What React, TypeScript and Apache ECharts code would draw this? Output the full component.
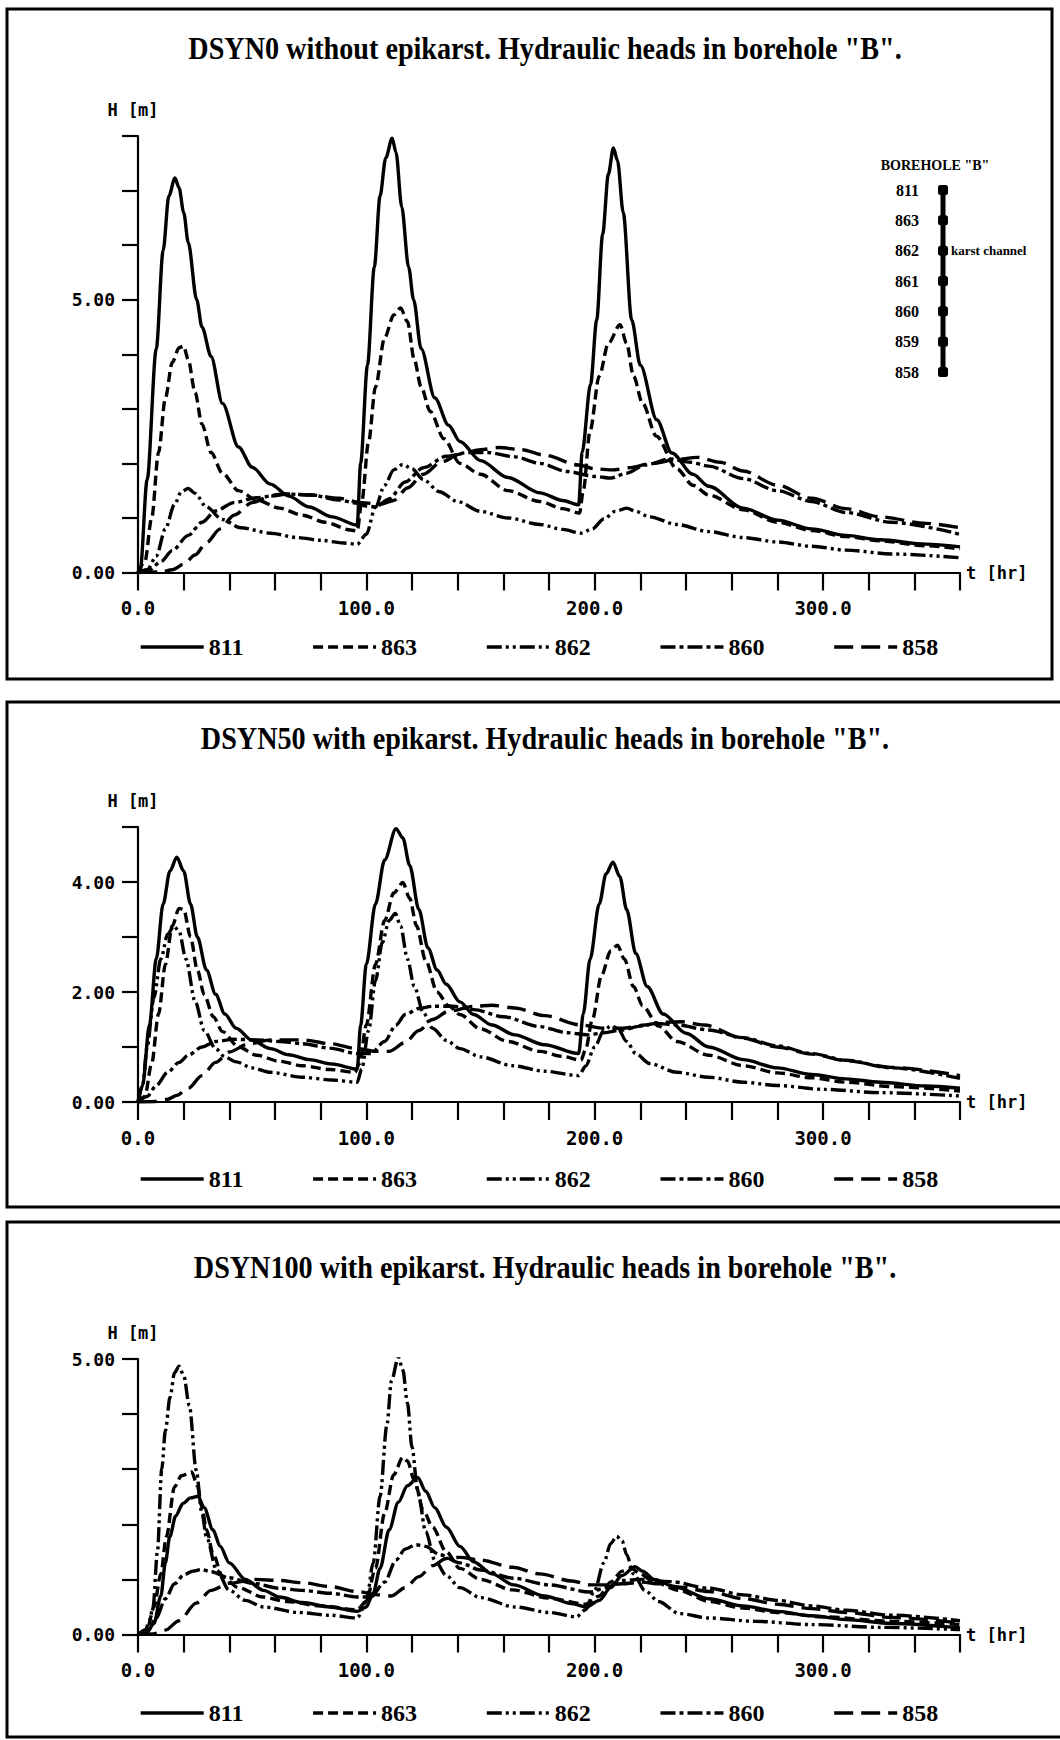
import React, { useEffect, useRef } from "react";
import * as echarts from "echarts";

// ---------- DATA ----------
const piezometers = ["811", "863", "862", "860", "858"];
const panelTitles = [
  'DSYN0 without epikarst. Hydraulic heads in borehole "B".',
  'DSYN50 with epikarst. Hydraulic heads in borehole "B".',
  'DSYN100 with epikarst. Hydraulic heads in borehole "B".',
];
const yMaxes = [8, 5, 5];
const yLabelValues = [[0, 5], [0, 2, 4], [0, 5]];
const xLabelValues = [0, 100, 200, 300];
const boreholeNodes = ["811", "863", "862", "861", "860", "859", "858"];
const karstNode = "862";
const karstText = "karst channel";
const boreholeTitle = 'BOREHOLE "B"';

// Panel 1: DSYN0
const p1_811 = [[0,0],[1,0.05],[4,1.7],[8,4.1],[11,5.9],[13.5,6.9],[16.2,7.23],[18,7.05],[20,6.6],[22,6.05],[25.7,5.0],[28,4.5],[32,3.96],[37,3.1],[44,2.3],[50,1.93],[58,1.62],[66,1.4],[75,1.2],[85,1.02],[96,0.87],[97.5,2.0],[100.5,3.8],[103.5,5.6],[106,6.9],[108.5,7.6],[111.3,7.96],[113,7.7],[115.5,6.7],[118.5,5.6],[120.7,5.0],[124,4.1],[130,3.2],[136,2.7],[141,2.4],[150,2.05],[162,1.74],[176,1.46],[186,1.32],[193,1.24],[194.5,2.2],[198.2,3.45],[200.9,4.63],[203.5,6.2],[206,7.3],[208.2,7.78],[210,7.55],[212.5,6.6],[216.2,4.63],[220,3.8],[227.2,2.8],[233.8,2.19],[243,1.8],[250,1.58],[265,1.18],[280,0.96],[295,0.8],[310,0.68],[325,0.6],[345,0.52],[360,0.47]];
const p1_863 = [[0,0],[3,0.2],[6,1.0],[9,2.2],[12,3.2],[15,3.85],[18,4.12],[20,4.15],[22,3.9],[25,3.3],[28,2.72],[32,2.2],[37,1.82],[44,1.5],[52,1.33],[62,1.18],[72,1.05],[82,0.92],[93,0.78],[96,0.76],[98,1.3],[101,2.4],[104,3.4],[108,4.3],[112,4.72],[115,4.85],[118,4.6],[121,3.9],[124,3.4],[128,2.95],[134,2.45],[141,2.0],[150,1.8],[162,1.5],[176,1.3],[186,1.17],[193.4,1.09],[195,1.5],[198,2.6],[202,3.6],[206,4.2],[211.1,4.54],[214,4.2],[217,3.6],[221,3.1],[227,2.5],[236,1.9],[243,1.6],[250,1.42],[265,1.15],[280,0.92],[295,0.77],[310,0.66],[325,0.58],[345,0.49],[360,0.43]];
const p1_862 = [[0,0],[4,0.05],[8,0.3],[12,0.8],[16,1.25],[19,1.48],[22,1.54],[25,1.45],[30,1.2],[37,0.97],[45,0.82],[58,0.72],[70,0.64],[80,0.59],[90,0.54],[96,0.52],[100,0.7],[104,1.2],[108,1.6],[112,1.88],[116,1.98],[120,1.9],[125,1.7],[132,1.48],[140,1.3],[150,1.12],[162,1.0],[176,0.88],[186,0.79],[194,0.72],[199,0.8],[204,0.98],[209,1.12],[214,1.18],[218,1.12],[224,1.02],[236,0.88],[250,0.75],[265,0.64],[280,0.56],[295,0.48],[310,0.41],[330,0.34],[360,0.27]];
const p1_860 = [[0,0],[5,0.05],[10,0.2],[15,0.4],[22,0.68],[28,0.92],[34,1.13],[42,1.28],[52,1.37],[64,1.44],[76,1.42],[88,1.33],[96,1.27],[100,1.22],[104,1.2],[110,1.35],[117,1.66],[125,1.92],[135,2.13],[145,2.2],[153,2.2],[165,2.12],[176,2.0],[188,1.85],[200,1.76],[207,1.73],[214,1.82],[222,1.97],[233,2.08],[242,2.02],[250,1.95],[265,1.72],[280,1.5],[295,1.3],[310,1.1],[330,0.92],[360,0.7]];
const p1_858 = [[0,0],[10,0.01],[15,0.05],[20,0.15],[25,0.32],[30,0.55],[36,0.8],[42,1.05],[50,1.28],[58,1.4],[66,1.44],[76,1.42],[88,1.36],[98,1.28],[106,1.25],[112,1.32],[118,1.55],[125,1.8],[133,2.03],[141,2.17],[150,2.25],[158,2.29],[168,2.25],[178,2.15],[193,1.97],[200,1.9],[208,1.88],[215,1.92],[225,2.0],[236,2.07],[245,2.11],[255,2.02],[265,1.86],[280,1.6],[295,1.36],[310,1.17],[325,1.02],[345,0.9],[360,0.82]];

// Panel 2: DSYN50
const p2_811 = [[0,0],[2,0.3],[5,1.4],[8,2.6],[11,3.6],[14,4.2],[17,4.45],[20,4.2],[23,3.6],[26,3.0],[30,2.4],[34,1.96],[38,1.6],[43,1.34],[50,1.12],[58,0.97],[66,0.86],[75,0.77],[85,0.69],[96,0.6],[97.5,1.4],[100,2.5],[104,3.6],[108,4.4],[113,4.97],[116,4.8],[119,4.3],[123,3.5],[127,2.8],[131,2.4],[135,2.14],[141,1.82],[147,1.59],[155,1.4],[165,1.22],[178,1.04],[193,0.88],[195,1.6],[198,2.6],[202,3.6],[205,4.15],[208,4.36],[211,4.1],[214,3.5],[218,2.7],[223,2.1],[230,1.6],[240,1.25],[250,1.0],[265,0.77],[280,0.62],[295,0.5],[310,0.42],[325,0.36],[345,0.29],[360,0.25]];
const p2_863 = [[0,0],[3,0.1],[6,0.7],[9,1.6],[12,2.5],[15,3.2],[18,3.52],[20,3.5],[23,3.0],[26,2.4],[29,1.95],[33,1.55],[37,1.28],[44,1.0],[52,0.85],[62,0.74],[72,0.66],[84,0.59],[95,0.54],[97,0.7],[100,1.4],[104,2.5],[108,3.3],[112,3.8],[116,3.99],[119,3.7],[122,3.2],[126,2.57],[131,2.0],[136,1.75],[141,1.59],[150,1.33],[162,1.1],[176,0.92],[186,0.83],[194,0.76],[196,0.95],[199,1.5],[203,2.3],[207,2.75],[210,2.85],[213,2.6],[217,2.1],[221,1.75],[228,1.38],[236,1.1],[250,0.85],[265,0.66],[280,0.53],[295,0.44],[310,0.36],[330,0.28],[360,0.2]];
const p2_862 = [[0,0],[2,0.3],[4,1.0],[7,1.9],[10,2.6],[13,3.05],[15.7,3.2],[18,3.1],[21,2.6],[25,1.83],[29,1.3],[34,0.97],[38,0.82],[43,0.73],[50,0.62],[58,0.54],[72,0.45],[85,0.4],[96,0.36],[98,0.6],[101,1.3],[104,2.2],[107,2.9],[110,3.3],[112.7,3.43],[115,3.2],[118,2.6],[121,2.1],[125,1.62],[129,1.34],[135,1.12],[141,0.97],[150,0.82],[164,0.66],[178,0.56],[193,0.48],[196,0.65],[200,1.0],[204,1.3],[207,1.38],[210,1.35],[214,1.1],[218,0.88],[224,0.7],[236,0.54],[250,0.45],[265,0.36],[280,0.3],[300,0.23],[325,0.17],[360,0.11]];
const p2_860 = [[0,0],[4,0.1],[8,0.3],[13,0.54],[18,0.72],[22,0.85],[28,1.0],[34,1.1],[42,1.14],[52,1.13],[62,1.1],[72,1.06],[84,0.98],[96,0.88],[102,0.88],[108,1.1],[113,1.4],[117,1.59],[123,1.7],[129,1.74],[138,1.74],[147,1.68],[160,1.55],[176,1.37],[188,1.26],[197,1.22],[204,1.26],[212,1.31],[220,1.38],[227,1.43],[236,1.4],[250,1.31],[265,1.17],[280,1.02],[295,0.88],[310,0.76],[330,0.62],[360,0.43]];
const p2_858 = [[0,0],[8,0.01],[13,0.05],[17,0.12],[22,0.25],[28,0.48],[34,0.72],[40,0.91],[48,1.05],[58,1.13],[72,1.13],[84,1.06],[96,0.97],[104,0.92],[110,0.92],[117,1.08],[123,1.3],[129,1.5],[136,1.65],[147,1.74],[155,1.76],[165,1.71],[178,1.57],[194,1.4],[204,1.34],[212,1.34],[222,1.4],[230,1.45],[238,1.46],[248,1.4],[265,1.16],[280,1.0],[295,0.87],[310,0.75],[330,0.63],[360,0.48]];

// Panel 3: DSYN100
const p3_811 = [[0,0],[4,0.05],[7,0.2],[10,0.7],[12,1.3],[13.9,1.77],[16.5,2.15],[19.7,2.38],[23,2.48],[26.3,2.51],[29,2.3],[32.8,1.9],[36,1.6],[40,1.3],[47,1.0],[55,0.8],[62,0.68],[72,0.58],[84,0.5],[96,0.42],[100,0.5],[103,0.75],[106,1.2],[110,1.9],[114,2.4],[118,2.7],[122.5,2.85],[126,2.6],[130,2.3],[135,1.95],[141,1.6],[147,1.32],[155,1.1],[164.5,0.9],[178,0.7],[190,0.56],[196.5,0.5],[202,0.62],[207,0.85],[212,1.07],[217.7,1.23],[221,1.15],[226,1.0],[236,0.85],[250,0.65],[265,0.52],[280,0.42],[295,0.34],[310,0.27],[330,0.2],[360,0.12]];
const p3_863 = [[0,0],[4,0.1],[7,0.5],[10,1.1],[12.4,1.77],[16,2.68],[19,2.88],[23.5,2.95],[26,2.7],[28,2.3],[30,1.9],[33,1.45],[37,1.05],[44,0.85],[54.7,0.68],[65,0.6],[80,0.52],[96,0.45],[100,0.6],[104,1.2],[108,2.2],[112,2.9],[116,3.22],[118,3.15],[121,2.8],[125,2.25],[129,1.95],[135,1.5],[141,1.2],[150,1.0],[164,0.81],[180,0.66],[196,0.55],[202,0.7],[207,0.95],[212,1.15],[216,1.2],[220,1.1],[226,0.95],[237,0.8],[250,0.6],[265,0.48],[280,0.4],[300,0.32],[330,0.24],[360,0.18]];
const p3_862 = [[0,0],[3,0.05],[5,0.25],[6.6,0.5],[8.5,1.5],[10.4,3.0],[12,3.7],[14,4.3],[16,4.75],[18,4.87],[20,4.7],[22.5,4.15],[25.5,2.98],[28,2.2],[30,1.77],[34.4,1.17],[40,0.8],[47,0.62],[55,0.5],[70,0.4],[84,0.35],[96,0.3],[100,0.6],[103,1.3],[106,2.5],[109,3.8],[111,4.6],[114,5.03],[116,4.8],[118,4.2],[120,3.4],[122.5,2.6],[126,1.87],[130,1.35],[135,1.07],[141,0.85],[150,0.67],[165,0.5],[180,0.4],[192,0.32],[196,0.45],[200,0.8],[204,1.3],[207,1.65],[209.6,1.78],[212,1.7],[214,1.45],[217,1.1],[222,0.8],[228,0.6],[237,0.38],[250,0.3],[270,0.24],[295,0.18],[325,0.13],[360,0.09]];
const p3_860 = [[0,0],[4,0.05],[8,0.3],[12,0.65],[16,0.92],[20,1.08],[24,1.15],[27.8,1.18],[32,1.14],[40,1.03],[50,0.93],[62,0.84],[72,0.8],[84,0.75],[96,0.68],[102,0.68],[108,0.95],[113,1.35],[117,1.55],[121.7,1.63],[126,1.6],[132,1.45],[141,1.3],[150,1.17],[164.5,1.02],[180,0.9],[198,0.77],[205,0.85],[212,0.98],[220,1.0],[233,0.96],[250,0.84],[265,0.72],[280,0.62],[295,0.52],[310,0.44],[330,0.35],[360,0.25]];
const p3_858 = [[0,0],[6.6,0.01],[12,0.08],[18,0.25],[25.5,0.57],[32,0.8],[40,0.93],[51.5,1.0],[62,0.98],[72,0.94],[84,0.87],[96,0.78],[105,0.72],[111,0.7],[117,0.85],[123,1.05],[129,1.25],[135,1.38],[141,1.4],[150,1.35],[164,1.22],[176,1.1],[190,0.97],[198,0.9],[205,0.9],[212,0.92],[221,0.95],[228,0.92],[237.4,0.86],[250,0.78],[265,0.65],[280,0.55],[295,0.47],[310,0.4],[330,0.31],[360,0.21]];

const panelData = [
  [p1_811, p1_863, p1_862, p1_860, p1_858],
  [p2_811, p2_863, p2_862, p2_860, p2_858],
  [p3_811, p3_863, p3_862, p3_860, p3_858],
];

// ---------- STYLE ----------
const dashTypes: any[] = ["solid", [10, 5], [15, 4, 3, 4, 3, 4], [15, 4, 4, 4], [19, 8]];
const MONO = "DejaVu Sans Mono";
const SERIF = "Liberation Serif";

const grids = [
  { left: 138, top: 136, width: 822, height: 436.5 },
  { left: 138, top: 827, width: 822, height: 275 },
  { left: 138, top: 1359, width: 822, height: 275.5 },
];
const frames = [
  { x: 7, y: 9, w: 1045, h: 670 },
  { x: 7, y: 702, w: 1060, h: 505 },
  { x: 7, y: 1222, w: 1060, h: 515 },
];
const titleY = [48, 738, 1267];
const legendTop = [635, 1167, 1701];

export default function App() {
  const ref = useRef<HTMLDivElement>(null);
  useEffect(() => {
    if (!ref.current) return;
    const chart = echarts.init(ref.current, null, { renderer: "svg" });

    const xAxes: any[] = grids.map((_, i) => ({
      type: "value",
      gridIndex: i,
      min: 0,
      max: 360,
      interval: 20,
      name: "t [hr]",
      nameLocation: "end",
      nameGap: 6,
      nameTextStyle: { fontFamily: MONO, fontWeight: "bold", fontSize: 17, color: "#000" },
      axisLine: { show: true, onZero: false, lineStyle: { color: "#000", width: 2.2 } },
      axisTick: { show: true, inside: false, length: 18, lineStyle: { color: "#000", width: 2.2 } },
      axisLabel: {
        margin: 26,
        fontFamily: MONO,
        fontWeight: "bold",
        fontSize: 19,
        color: "#000",
        showMinLabel: true,
        showMaxLabel: true,
        formatter: (v: number) => (xLabelValues.indexOf(v) >= 0 ? v.toFixed(1) : ""),
      },
      splitLine: { show: false },
    }));
    const yAxes: any[] = grids.map((_, i) => ({
      type: "value",
      gridIndex: i,
      min: 0,
      max: yMaxes[i],
      interval: 1,
      name: "H [m]",
      nameLocation: "end",
      nameGap: 18,
      nameTextStyle: { fontFamily: MONO, fontWeight: "bold", fontSize: 17, color: "#000", padding: [0, 10, 0, 0] },
      axisLine: { show: true, onZero: false, lineStyle: { color: "#000", width: 2.2 } },
      axisTick: { show: true, inside: false, length: 16, lineStyle: { color: "#000", width: 2.2 } },
      axisLabel: {
        margin: 23,
        fontFamily: MONO,
        fontWeight: "bold",
        fontSize: 18,
        color: "#000",
        formatter: (v: number) => (yLabelValues[i].indexOf(v) >= 0 ? v.toFixed(2) : ""),
      },
      splitLine: { show: false },
    }));

    // borehole inset axes
    xAxes.push({ type: "value", gridIndex: 3, min: -1, max: 1, show: false });
    yAxes.push({
      type: "category",
      gridIndex: 3,
      data: boreholeNodes,
      inverse: true,
      boundaryGap: false,
      axisLine: { show: false },
      axisTick: { show: false },
      splitLine: { show: false },
      axisLabel: { margin: 14, fontFamily: SERIF, fontWeight: "bold", fontSize: 16, color: "#000" },
    });

    const series: any[] = [];
    panelData.forEach((arr, i) => {
      arr.forEach((data, k) => {
        series.push({
          type: "line",
          name: piezometers[k],
          xAxisIndex: i,
          yAxisIndex: i,
          data,
          symbol: "none",
          showSymbol: false,
          smooth: 0.3,
          smoothMonotone: "x",
          color: "#000",
          itemStyle: { color: "#000" },
          lineStyle: { color: "#000", width: 3.4, type: dashTypes[k] },
          z: 3,
        });
      });
    });
    series.push({
      type: "line",
      name: "borehole",
      xAxisIndex: 3,
      yAxisIndex: 3,
      data: boreholeNodes.map((n) =>
        n === karstNode
          ? {
              value: [0, n],
              label: {
                show: true,
                position: "right",
                distance: 3,
                formatter: karstText,
                fontFamily: SERIF,
                fontWeight: "bold",
                fontSize: 13,
                color: "#000",
              },
            }
          : { value: [0, n] }
      ),
      symbol: "roundRect",
      symbolSize: 10,
      showSymbol: true,
      itemStyle: { color: "#000" },
      lineStyle: { color: "#000", width: 5 },
    });

    const legends = legendTop.map((top) => ({
      data: piezometers,
      left: 139,
      top,
      orient: "horizontal",
      padding: 0,
      itemWidth: 63,
      itemHeight: 14,
      itemGap: 68,
      selectedMode: false,
      itemStyle: { color: "rgba(0,0,0,0)", borderWidth: 0, opacity: 0 },
      lineStyle: { width: 3.4 },
      textStyle: { fontFamily: SERIF, fontWeight: "bold", fontSize: 24, color: "#000" },
    }));

    const graphic: any[] = [];
    frames.forEach((f) =>
      graphic.push({
        type: "rect",
        shape: { x: f.x, y: f.y, width: f.w, height: f.h },
        style: { fill: "none", stroke: "#000", lineWidth: 3 },
        silent: true,
        z: 1,
      })
    );
    panelTitles.forEach((t, i) =>
      graphic.push({
        type: "text",
        x: 545,
        y: titleY[i],
        scaleX: 0.88,
        style: {
          text: t,
          fontFamily: SERIF,
          fontWeight: "bold",
          fontSize: 32,
          fill: "#000",
          textAlign: "center",
          textVerticalAlign: "middle",
        },
        z: 10,
      })
    );
    graphic.push({
      type: "text",
      x: 935,
      y: 165,
      style: {
        text: boreholeTitle,
        fontFamily: SERIF,
        fontWeight: "bold",
        fontSize: 14,
        fill: "#000",
        textAlign: "center",
        textVerticalAlign: "middle",
      },
      z: 10,
    });

    chart.setOption({
      animation: false,
      backgroundColor: "#fff",
      grid: [...grids, { left: 933, top: 190, width: 20, height: 182 }],
      xAxis: xAxes,
      yAxis: yAxes,
      legend: legends,
      series,
      graphic,
    });
    return () => chart.dispose();
  }, []);
  return (
    <div
      ref={ref}
      style={{ position: "absolute", left: 0, top: 0, width: 1060, height: 1740, background: "#fff" }}
    />
  );
}
